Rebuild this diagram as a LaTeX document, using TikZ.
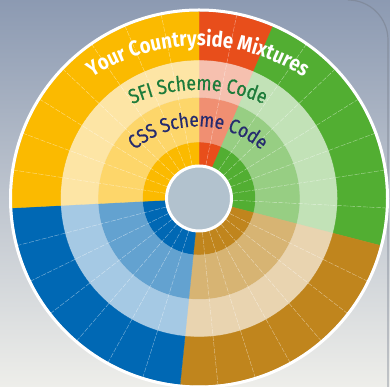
\documentclass[tikz,border=0pt]{standalone}
\usepackage{fontspec}
\setmainfont{Fira Sans}
\newfontfamily\wheelfont[FakeStretch=0.86]{Fira Sans}
\newfontfamily\wheelmedium[FakeStretch=0.86, FakeBold=0.6]{Fira Sans}
\usetikzlibrary{decorations.text}

\definecolor{backtop}{RGB}{140,154,178}
\definecolor{backmid}{RGB}{188,195,205}
\definecolor{backbottom}{RGB}{238,238,234}
\definecolor{pageedge}{RGB}{122,130,144}
\definecolor{hubgrey}{RGB}{178,194,206}

\definecolor{yellowmain}{RGB}{251,186,0}
\definecolor{yellowcss}{RGB}{253,214,106}
\definecolor{yellowsfi}{RGB}{253,229,165}
\definecolor{redmain}{RGB}{232,78,27}
\definecolor{redcss}{RGB}{240,143,114}
\definecolor{redsfi}{RGB}{246,192,175}
\definecolor{greenmain}{RGB}{82,174,50}
\definecolor{greencss}{RGB}{151,206,131}
\definecolor{greensfi}{RGB}{194,226,183}
\definecolor{brownmain}{RGB}{192,133,29}
\definecolor{browncss}{RGB}{215,180,115}
\definecolor{brownsfi}{RGB}{233,212,176}
\definecolor{bluemain}{RGB}{0,104,180}
\definecolor{bluecss}{RGB}{99,162,208}
\definecolor{bluesfi}{RGB}{165,201,228}

\definecolor{sfitext}{RGB}{29,123,58}
\definecolor{csstext}{RGB}{37,43,110}

\begin{document}
\begin{tikzpicture}[x=1pt, y=1pt]
            \shade[top color=backtop, middle color=backmid, bottom color=backbottom] (-199, -188.5) rectangle (191, 198.5);
            \useasboundingbox (-199, -188.5) rectangle (191, 198.5);
            \draw[pageedge, line width=1.2pt, opacity=0.6] (189, -188.5) -- (189, 158.5) arc[start angle=0, end angle=90, radius=40];

            \foreach \kstart/\kend/\hue in {0/2/red, 2/9/green, 9/16/brown, 16/23/blue, 23/31/yellow} {
                \foreach \rin/\rout/\tone in {30/56.5/main, 56.5/101/css, 101/138.5/sfi, 138.5/187/main} {
                    \pgfmathsetmacro{\astart}{90 - 360 * \kstart / 31}
                    \pgfmathsetmacro{\aend}{90 - 360 * \kend / 31}
                    \fill[fill=\hue\tone, draw=\hue\tone, line width=0.3pt] (\astart:\rin) arc[start angle=\astart, end angle=\aend, radius=\rin] -- (\aend:\rout) arc[start angle=\aend, end angle=\astart, radius=\rout] -- cycle;
                }
            }

            \foreach \k in {1, 3, 4, 5, 6, 7, 8, 10, 11, 12, 13, 14, 15, 17, 18, 19, 20, 21, 22, 24, 25, 26, 27, 28, 29, 30} {
                \draw[white, opacity=0.5, line width=0.4pt, dash pattern=on 5pt off 1.5pt] ({90 - 360 * \k / 31}:34) -- ({90 - 360 * \k / 31}:187);
            }

            \fill[hubgrey] (0, 0) circle(32.5);
            \draw[white, line width=3pt] (0, 0) circle(32.5);
            \draw[white, line width=3pt] (0, 0) circle(188.5);

            \path[decorate, decoration={text along path, text align=center, text color=white,
                text={|\wheelfont\fontsize{21.5}{22}\selectfont\bfseries|Your Countryside Mixtures}}]
                ([shift={(-1, -40)}] 160:192.5) arc[start angle=160, end angle=20, radius=192.5];
            \path[decorate, decoration={text along path, text align=center, text color=sfitext,
                text={|\wheelmedium\fontsize{20.5}{22}\selectfont|SFI Scheme Code}}]
                ([shift={(-1, -50)}] 165:158.5) arc[start angle=165, end angle=15, radius=158.5];
            \path[decorate, decoration={text along path, text align=center, text color=csstext,
                text={|\wheelmedium\fontsize{20}{22}\selectfont|CSS Scheme Code}}]
                ([shift={(-1, -24)}] 170:96) arc[start angle=170, end angle=10, radius=96];
        \end{tikzpicture}
\end{document}
